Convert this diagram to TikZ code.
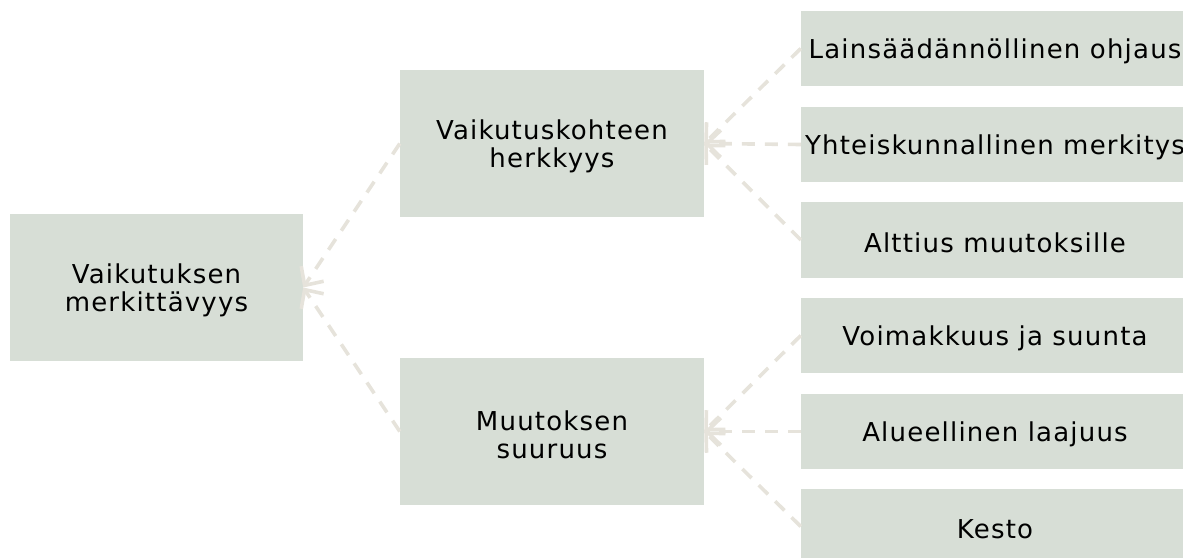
\documentclass[tikz,border=0pt]{standalone}
\usepackage{fontspec}
\setmainfont{DejaVu Sans}[LetterSpace=4.6]
\usetikzlibrary{arrows.meta}
\definecolor{boxfill}{HTML}{D7DED6}
\definecolor{conncol}{HTML}{E6E3DB}
\tikzset{
  box/.style={rectangle, fill=boxfill, draw=none, inner sep=0pt, align=center,
    font=\fontsize{26}{28}\selectfont, text=black},
  lbl/.style={inner sep=0pt, align=center, font=\fontsize{26}{28}\selectfont, text=black},
  conn/.style={draw=conncol, line width=3.6pt, dash pattern=on 13pt off 10pt,
    -{Straight Barb[length=14pt,width=27pt,line width=3.6pt]}},
}
\begin{document}
\begin{tikzpicture}[x=1pt,y=-1pt]
\useasboundingbox (0,0) rectangle (1183,557);
\begin{scope}
\clip (0,0) rectangle (1183,557);
\node[box, minimum width=293pt, minimum height=147pt] (L) at (156.5,287.5) {};
\node[box, minimum width=304pt, minimum height=147pt] (M1) at (552,143.5) {};
\node[box, minimum width=304pt, minimum height=147pt] (M2) at (552,431.5) {};
\node[box, minimum width=388pt, minimum height=75pt] (R1) at (995,48.5) {};
\node[box, minimum width=388pt, minimum height=75pt] (R2) at (995,144.5) {};
\node[box, minimum width=388pt, minimum height=76pt] (R3) at (995,240) {};
\node[box, minimum width=388pt, minimum height=75pt] (R4) at (995,335.5) {};
\node[box, minimum width=388pt, minimum height=75pt] (R5) at (995,431.5) {};
\node[box, minimum width=388pt, minimum height=75pt] (R6) at (995,526.5) {};
\node[lbl] (tL) at ([yshift=-3pt]L.center) {Vaikutuksen\\merkittävyys};
\node[lbl] (tM1) at ([yshift=-3pt]M1.center) {Vaikutuskohteen\\herkkyys};
\node[lbl] (tM2) at ([yshift=-3pt]M2.center) {Muutoksen\\suuruus};
\node[lbl] (tR1) at ([yshift=-3pt]R1.center) {Lainsäädännöllinen ohjaus};
\node[lbl] (tR2) at ([yshift=-3pt]R2.center) {Yhteiskunnallinen merkitys};
\node[lbl] (tR3) at ([yshift=-3pt]R3.center) {Alttius muutoksille};
\node[lbl] (tR4) at ([yshift=-3pt]R4.center) {Voimakkuus ja suunta};
\node[lbl] (tR5) at ([yshift=-3pt]R5.center) {Alueellinen laajuus};
\node[lbl] (tR6) at ([yshift=-3pt]R6.center) {Kesto};
\end{scope}
\draw[conn] (M1.west) -- (L.east);
\draw[conn] (M2.west) -- (L.east);
\draw[conn] (R1.west) -- (M1.east);
\draw[conn] (R2.west) -- (M1.east);
\draw[conn] (R3.west) -- (M1.east);
\draw[conn] (R4.west) -- (M2.east);
\draw[conn] (R5.west) -- (M2.east);
\draw[conn] (R6.west) -- (M2.east);
\end{tikzpicture}
\end{document}
